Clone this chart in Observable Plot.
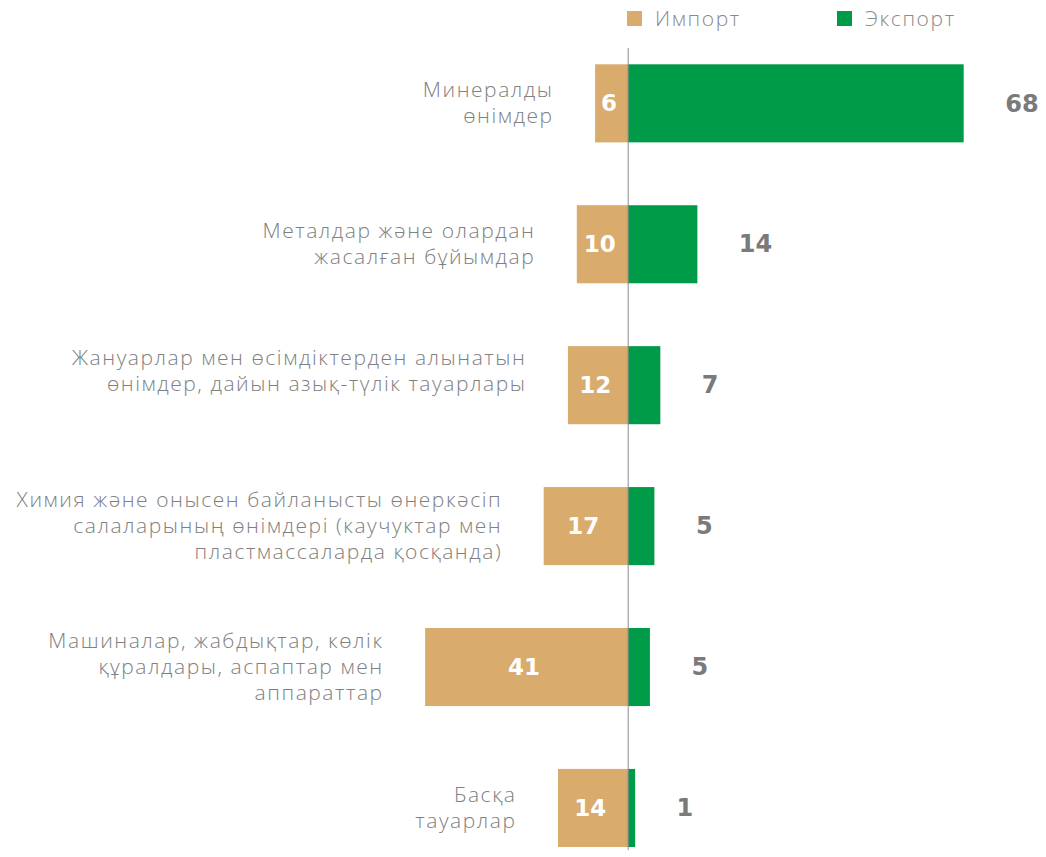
<!DOCTYPE html>
<html><head><meta charset="utf-8">
<script src="https://cdn.jsdelivr.net/npm/d3@7"></script>
<script src="https://cdn.jsdelivr.net/npm/@observablehq/plot@0.6"></script>
<style>
body{margin:0;background:#fff;}
#wrap{position:relative;width:1046px;height:857px;overflow:hidden;}
#legend{position:absolute;top:0;left:0;width:1046px;height:40px;font-family:"Open Sans",sans-serif;font-weight:300;font-size:21px;letter-spacing:1.6px;color:#8a8a8a;}
.item{position:absolute;top:4px;display:flex;align-items:center;height:28px;}
.sw{width:15px;height:15px;margin-right:13px;}
#chart{position:absolute;top:0;left:0;}
.cat{letter-spacing:1.55px;}
</style></head><body>
<div id="wrap"><div id="chart"></div><div id="legend"></div></div>
<script>
const categories = [
  "Минералды\nөнімдер",
  "Металдар және олардан\nжасалған бұйымдар",
  "Жануарлар мен өсімдіктерден алынатын\nөнімдер, дайын азық-түлік тауарлары",
  "Химия және онысен байланысты өнеркәсіп\nсалаларының өнімдері (каучуктар мен\nпластмассаларда қосқанда)",
  "Машиналар, жабдықтар, көлік\nқұралдары, аспаптар мен\nаппараттар",
  "Басқа\nтауарлар"
];
const importValues = [6.6, 10.3, 12.1, 17.0, 41.0, 14.1];
const exportValues = [68, 14.1, 6.6, 5.4, 4.5, 1.5];
const importLabels = ["6", "10", "12", "17", "41", "14"];
const exportLabels = ["68", "14", "7", "5", "5", "1"];
const seriesNames = ["Импорт", "Экспорт"];

const importColor = "#D9AB6D";
const exportColor = "#009B48";
const gray = "#808080";

const rows = categories.map((c, i) => ({
  category: c, imp: importValues[i], exp: exportValues[i],
  impLabel: importLabels[i], expLabel: exportLabels[i], raised: i === 2
}));

const catLabel = (filter, dy) => Plot.text(rows, {
  filter, y: "category", x: d => -d.imp, text: "category", textAnchor: "end", dx: -42, dy,
  lineHeight: 1.25, fontSize: 21, fontWeight: 300, fill: gray, className: "cat"
});

const chart = Plot.plot({
  width: 1046,
  height: 857,
  marginTop: 0, marginBottom: 0, marginLeft: 0, marginRight: 0,
  style: {fontFamily: "'Open Sans', sans-serif", background: "#fff"},
  x: {domain: [0, 68], range: [627.7, 963.7], axis: null},
  y: {domain: categories, range: [64.3, 847], paddingInner: 0.446, paddingOuter: 0, align: 0.5, round: false, axis: null},
  marks: [
    Plot.barX(rows, {y: "category", x1: d => -d.imp, x2: 0, fill: importColor}),
    Plot.barX(rows, {y: "category", x1: 0, x2: "exp", fill: exportColor}),
    catLabel(d => !d.raised, -2),
    catLabel(d => d.raised, -16),
    Plot.text(rows, {y: "category", x: d => -d.imp / 2, text: "impLabel", dx: -3,
      fontFamily: "'DejaVu Sans', sans-serif", fontSize: 23, fontWeight: 700, fill: "#fff"}),
    Plot.text(rows, {y: "category", x: "exp", text: "expLabel", textAnchor: "start", dx: 41,
      fontFamily: "'DejaVu Sans', sans-serif", fontSize: 24, fontWeight: 700, fill: "#7a7a7a"}),
    Plot.ruleX([0], {stroke: "#8c8c8c", strokeWidth: 1, insetTop: 48, insetBottom: 7})
  ]
});
document.getElementById("chart").appendChild(chart);

const legend = document.getElementById("legend");
const colors = [importColor, exportColor];
const lefts = [627, 837];
seriesNames.forEach((name, i) => {
  const it = document.createElement("div");
  it.className = "item";
  it.style.left = lefts[i] + "px";
  const sw = document.createElement("div");
  sw.className = "sw";
  sw.style.background = colors[i];
  const t = document.createElement("span");
  t.textContent = name;
  it.appendChild(sw); it.appendChild(t);
  legend.appendChild(it);
});
</script>
</body></html>
